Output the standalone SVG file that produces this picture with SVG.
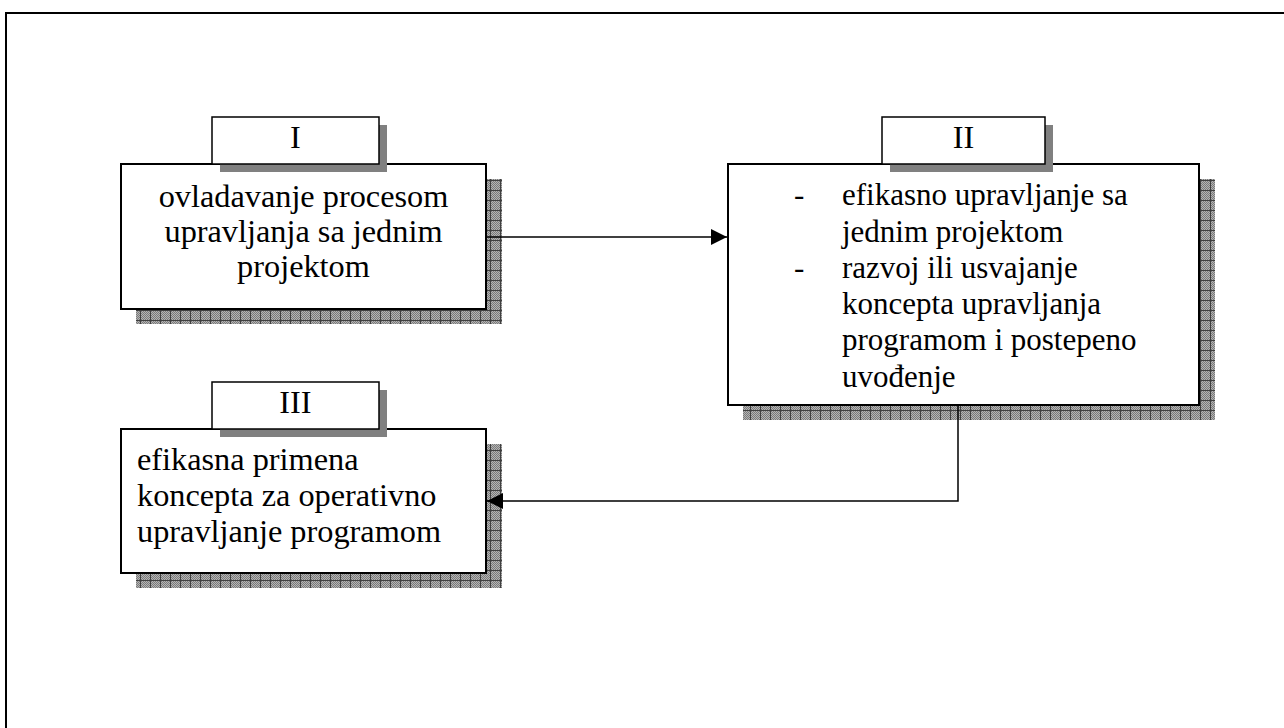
<svg xmlns="http://www.w3.org/2000/svg" width="1284" height="728" viewBox="0 0 1284 728">
  <style>
    .box { fill: #ffffff; stroke: #000000; stroke-width: 2; }
    .tab { fill: #ffffff; stroke: #000000; stroke-width: 1.5; }
    .tabshadow { fill: #808080; }
    .shadow { fill: url(#grid); }
    .mid { text-anchor: middle; }
    .big { font-size: 32.3px; }
    .wire { fill: none; stroke: #000000; stroke-width: 1.5; }
  </style>
  <defs>
    <pattern id="dots" width="2" height="2" patternUnits="userSpaceOnUse">
      <rect width="2" height="2" fill="#b4b4b4"/>
      <rect width="1" height="1" fill="#7a7a7a"/>
      <rect x="1" y="1" width="1" height="1" fill="#7a7a7a"/>
    </pattern>
    <pattern id="grid" width="10" height="10" patternUnits="userSpaceOnUse">
      <rect width="10" height="10" fill="url(#dots)"/>
      <rect x="0" y="0" width="10" height="1" fill="#404040"/>
      <rect x="0" y="0" width="1" height="10" fill="#404040"/>
    </pattern>
    <marker id="arrow" viewBox="0 0 16 16" refX="16" refY="8" markerWidth="16" markerHeight="16" markerUnits="userSpaceOnUse" orient="auto">
      <path d="M0,0 L16,8 L0,16 Z" fill="#000000"/>
    </marker>
  </defs>

  <rect width="1284" height="728" fill="#ffffff"/>
  <!-- page frame -->
  <rect x="6" y="13" width="1300" height="740" fill="none" stroke="#000000" stroke-width="2"/>

  <g font-family="Liberation Serif, Tinos, Times New Roman, DejaVu Serif, serif" font-size="31" fill="#000000">
    <g id="node-I">
      <rect class="shadow" x="136" y="179" width="366" height="145"/>
      <rect class="box" x="121" y="164" width="365" height="145"/>
      <rect class="tabshadow" x="220" y="125" width="167" height="47"/>
      <rect class="tab" x="212" y="117" width="167" height="47"/>
      <text class="mid big" x="295.5" y="148">I</text>
      <text class="mid big" x="303.5" y="207">ovladavanje procesom</text>
      <text class="mid big" x="303.5" y="242">upravljanja sa jednim</text>
      <text class="mid big" x="303.5" y="277">projektom</text>
    </g>

    <g id="node-II">
      <rect class="shadow" x="743" y="179" width="472" height="241"/>
      <rect class="box" x="728" y="164" width="471" height="241"/>
      <rect class="tabshadow" x="890" y="125" width="163" height="47"/>
      <rect class="tab" x="882" y="117" width="163" height="47"/>
      <text class="mid big" x="963.5" y="148">II</text>
      <text x="794" y="205">-</text>
      <text x="842" y="205">efikasno upravljanje sa</text>
      <text x="842" y="242">jednim projektom</text>
      <text x="794" y="278">-</text>
      <text x="842" y="278">razvoj ili usvajanje</text>
      <text x="842" y="314">koncepta upravljanja</text>
      <text x="842" y="350">programom i postepeno</text>
      <text x="842" y="387">uvođenje</text>
    </g>

    <g id="node-III">
      <rect class="shadow" x="136" y="444" width="366" height="144"/>
      <rect class="box" x="121" y="429" width="365" height="144"/>
      <rect class="tabshadow" x="220" y="390" width="167" height="47"/>
      <rect class="tab" x="212" y="382" width="167" height="47"/>
      <text class="mid big" x="295.5" y="413">III</text>
      <text class="big" x="137" y="470">efikasna primena</text>
      <text class="big" x="137" y="506">koncepta za operativno</text>
      <text class="big" x="137" y="542">upravljanje programom</text>
    </g>
  </g>

  <g id="connectors">
    <path class="wire" d="M486,237 H727" marker-end="url(#arrow)"/>
    <path class="wire" d="M958,405 V501 H487" marker-end="url(#arrow)"/>
  </g>
</svg>
